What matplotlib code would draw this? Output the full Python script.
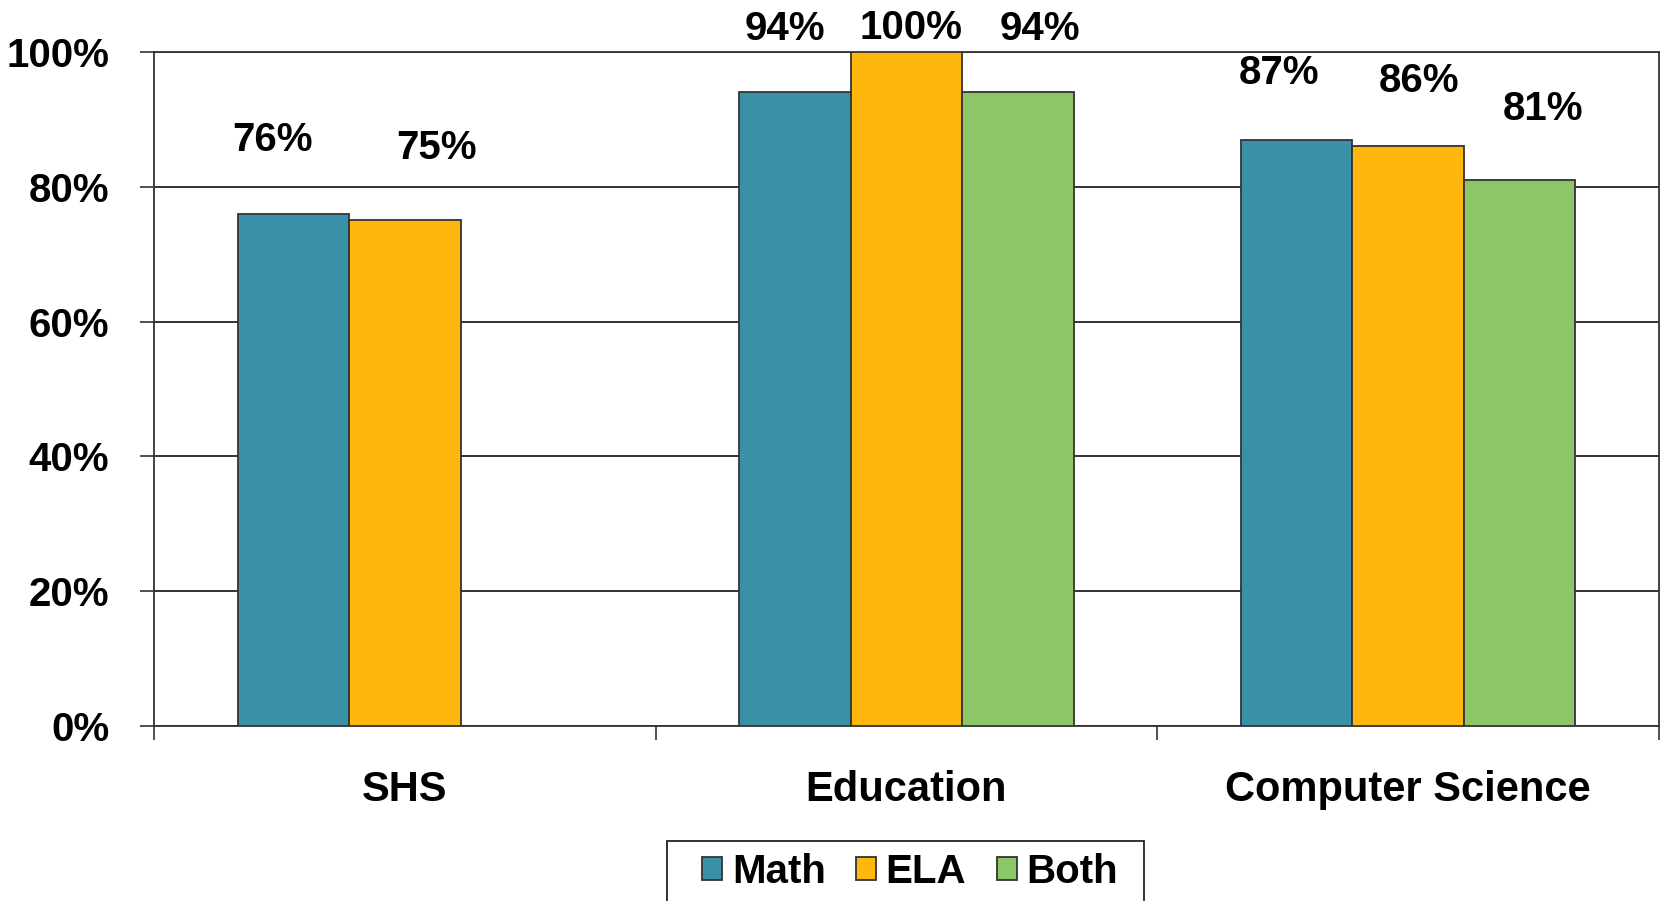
import numpy as np
import matplotlib
matplotlib.use("Agg")
import matplotlib.pyplot as plt
from matplotlib.patches import Rectangle
from matplotlib.ticker import FuncFormatter

plt.rcParams['font.family'] = ['Liberation Sans', 'DejaVu Sans']
plt.rcParams['font.weight'] = 'bold'

categories = ["SHS", "Education", "Computer Science"]
series = ["Math", "ELA", "Both"]
math = [76, 94, 87]
ela = [75, 100, 86]
both = [np.nan, 94, 81]
colors = ["#3A91A7", "#FFB70E", "#8DC666"]

# hand-placed label offsets (points) relative to each bar top
label_offsets = [
    [(-15, 53), (-7, 46), (-13, 48)],
    [(23, 52), (3, 17), (8, 47)],
    [(0, 0), (16, 46), (17, 51)],
]

fs = 29
W, H = 1664, 901
fig = plt.figure(figsize=(W / 100, H / 100), dpi=100)
ax = fig.add_axes([0.0925, 0.1942, 0.997 - 0.0925, 0.9423 - 0.1942])

x = np.arange(len(categories))
w = 1 / 4.5
values = [math, ela, both]
for i, (name, vals) in enumerate(zip(series, values)):
    pos = x + (i - 1) * w
    ax.bar(pos, vals, width=w, color=colors[i], edgecolor="#333333",
           linewidth=1.3, label=name, zorder=3)
    for j, v in enumerate(vals):
        if np.isnan(v):
            continue
        ax.annotate(f"{v:.0f}%", (pos[j], v), xytext=label_offsets[i][j],
                    textcoords="offset points", ha="center", va="center",
                    fontsize=fs, fontweight="bold", annotation_clip=False)

ax.set_xlim(-0.5, 2.5)
ax.set_ylim(0, 100)
ax.set_yticks(range(0, 101, 20))
ax.yaxis.set_major_formatter(FuncFormatter(lambda v, p: f"{v:.0f}%"))
ax.grid(axis="y", color="#222222", linewidth=1.3, zorder=0)

ax.set_xticks(x)
ax.set_xticklabels(categories)
ax.set_xticks([-0.5, 0.5, 1.5, 2.5], minor=True)
ax.tick_params(axis="x", which="major", length=0, pad=32, labelsize=30)
ax.tick_params(axis="x", which="minor", length=10, width=1.2, direction="out", color="#333333")
ax.tick_params(axis="y", length=10, width=1.2, direction="out", pad=22, labelsize=fs, color="#333333")

for s in ax.spines.values():
    s.set_color("#333333")
    s.set_linewidth(1.3)

# legend box runs off the bottom edge
fig.add_artist(Rectangle((667 / W, -0.05), (1144 - 667) / W, 0.05 + 1 - 841.5 / H,
                         transform=fig.transFigure, facecolor="white",
                         edgecolor="#222222", linewidth=1.3, zorder=1))
leg = fig.legend(loc="center", bbox_to_anchor=(910 / W, 1 - 872 / H), ncol=3,
                 fontsize=fs, frameon=False,
                 handlelength=0.5, handleheight=0.5, handletextpad=0.24,
                 columnspacing=0.75, borderpad=0, borderaxespad=0)
leg.set_zorder(2)

fig.savefig("out.png", dpi=100)
